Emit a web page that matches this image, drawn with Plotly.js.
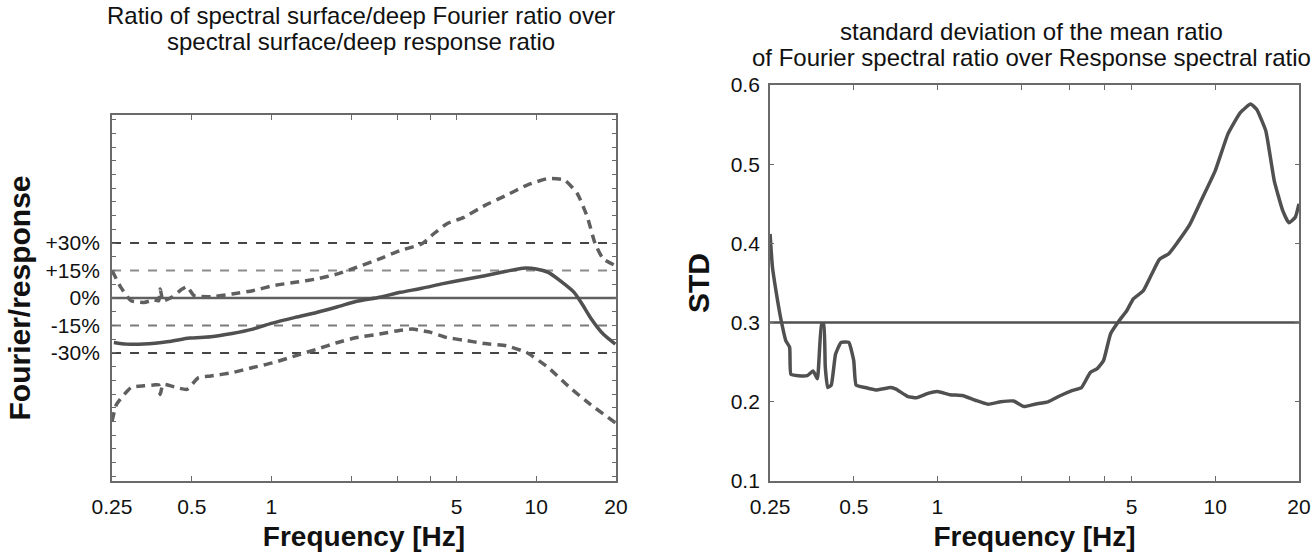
<!DOCTYPE html>
<html>
<head>
<meta charset="utf-8">
<script src="https://cdn.plot.ly/plotly-3.0.1.min.js"></script>
<style>html,body{margin:0;padding:0;background:#fff}#chart{width:1315px;height:552px}</style>
</head>
<body>
<div id="chart"></div>
<script>
// ---- Left panel: ratio Fourier/response (in %) ----
const meanFreq = [0.254,0.283,0.329,0.41,0.49,0.59,0.71,0.85,1.0,1.23,1.48,1.78,2.1,2.56,3.07,3.7,4.4,5.3,6.4,7.7,8.9,10.0,11.1,12.3,13.9,14.9,16.0,17.9,19.9];
const meanRatio = [-24.3,-25.2,-25.2,-23.8,-21.9,-21.2,-19.4,-17,-13.9,-10.6,-7.9,-4.8,-1.8,0.4,3.1,5.3,7.7,10,12.2,14.6,16.3,15.9,14,9.5,3.1,-3.3,-10.6,-19.7,-25.2];

const upperFreq = [0.25,0.27,0.295,0.33,0.36,0.375,0.38,0.39,0.42,0.46,0.48,0.51,0.59,0.71,0.85,1.02,1.23,1.48,1.78,2.1,2.56,3.07,3.7,4.1,4.6,5.3,6.4,7.7,9.2,11.1,12.8,14.3,15.6,16.7,17.9,19.9];
const upperRatio = [15,5.8,-1.5,-2.4,-1.1,-1.5,4.9,-1.5,0.4,4.9,6.2,1.3,0.7,2.2,4,6.8,8.6,10.4,13.2,16.8,21.4,26,29.6,35.1,40.6,43.9,50.6,56.1,61.6,65.3,64.4,57,44.2,29.6,21.4,17.7];

const lowerFreq = [0.25,0.26,0.295,0.33,0.36,0.375,0.38,0.39,0.44,0.48,0.53,0.59,0.71,0.85,1.02,1.23,1.48,1.78,2.1,2.56,3.07,3.4,3.7,4.0,4.6,5.3,6.4,7.7,9.2,11.1,13.4,16.0,19.9];
const lowerRatio = [-67.3,-58.1,-49,-48,-47.5,-47.5,-52.7,-47.2,-49,-49.9,-43.5,-42.6,-40.8,-38,-35.3,-31.6,-28,-24.3,-21.6,-19.7,-17.6,-17,-17.9,-18.8,-21.6,-23,-24.9,-26.1,-29.8,-38,-49,-58.1,-68.2];

const refLevels = [30, 15, 0, -15, -30];
const refSpan = [0.25, 20];

// ---- Right panel: standard deviation ----
const stdFreq = [0.25,0.255,0.266,0.274,0.285,0.294,0.297,0.316,0.34,0.357,0.37,0.383,0.39,0.395,0.403,0.415,0.43,0.45,0.48,0.5,0.51,0.55,0.6,0.68,0.71,0.78,0.84,0.93,1.0,1.11,1.23,1.37,1.52,1.69,1.88,2.05,2.24,2.5,2.74,3.05,3.3,3.55,3.76,3.96,4.2,4.5,4.8,5.07,5.5,5.9,6.3,6.8,7.3,8.1,9.0,10.0,11.1,12.3,13.4,14.1,15.2,16.3,17.5,18.4,19.4,20];
const stdValues = [0.412,0.370,0.328,0.303,0.277,0.269,0.235,0.233,0.233,0.239,0.229,0.298,0.298,0.244,0.218,0.221,0.26,0.275,0.275,0.252,0.221,0.218,0.215,0.218,0.216,0.207,0.205,0.211,0.213,0.209,0.208,0.202,0.197,0.200,0.201,0.194,0.197,0.200,0.207,0.214,0.218,0.237,0.242,0.252,0.286,0.302,0.315,0.330,0.340,0.361,0.380,0.387,0.401,0.424,0.458,0.492,0.538,0.565,0.576,0.569,0.542,0.479,0.441,0.426,0.433,0.45];
const stdThreshold = 0.3;

// ---- Tick labels ----
const freqTickVals = [0.25,0.5,1,2,3,4,5,10,20];
const freqTickText = ['0.25','0.5','1','','','','5','10','20'];
const ratioTickVals = [-97.5,-90,-82.5,-75,-67.5,-60,-52.5,-45,-37.5,-30,-22.5,-15,-7.5,0,7.5,15,22.5,30,37.5,45,52.5,60,67.5,75,82.5,90,97.5];
const ratioLabelled = {'-30':'-30%','-15':'-15%','0':'0%','15':'+15%','30':'+30%'};
const stdTickVals = [0.1,0.2,0.3,0.4,0.5,0.6];
const stdTickText = ['0.1','0.2','0.3','0.4','0.5','0.6'];

const FONT = 'Liberation Sans, Arial, Helvetica, sans-serif';
const AX = '#6a6a6a';
const CURVE = '#505050';

const refColors = ['#454545', '#8c8c8c', '#606060', '#7a7a7a', '#454545'];
const refDash = ['dash', 'dash', 'solid', 'dash', 'dash'];
const refWidth = [2, 2, 2.5, 2, 2];

const traces = [];
refLevels.forEach((lv, i) => {
  traces.push({x: refSpan, y: [lv, lv], type: 'scatter', mode: 'lines', xaxis: 'x', yaxis: 'y',
    line: {color: refColors[i], width: refWidth[i], dash: refDash[i]}, hoverinfo: 'skip'});
});
traces.push({x: upperFreq, y: upperRatio, type: 'scatter', mode: 'lines', xaxis: 'x', yaxis: 'y',
  line: {color: '#5f5f5f', width: 3.5, dash: '9px,6px', shape: 'spline', smoothing: 0.5}});
traces.push({x: lowerFreq, y: lowerRatio, type: 'scatter', mode: 'lines', xaxis: 'x', yaxis: 'y',
  line: {color: '#5f5f5f', width: 3.5, dash: '9px,6px', shape: 'spline', smoothing: 0.5}});
traces.push({x: meanFreq, y: meanRatio, type: 'scatter', mode: 'lines', xaxis: 'x', yaxis: 'y',
  line: {color: CURVE, width: 3.5, shape: 'spline', smoothing: 0.6}});

traces.push({x: refSpan, y: [stdThreshold, stdThreshold], type: 'scatter', mode: 'lines', xaxis: 'x2', yaxis: 'y2',
  line: {color: '#505050', width: 2.5}});
traces.push({x: stdFreq, y: stdValues, type: 'scatter', mode: 'lines', xaxis: 'x2', yaxis: 'y2',
  line: {color: CURVE, width: 3.5, shape: 'spline', smoothing: 0.4}});

const freqAxis = (anchor, domain) => ({
  type: 'log', range: [Math.log10(0.25), Math.log10(20)], domain: domain, anchor: anchor,
  tickvals: freqTickVals, ticktext: freqTickText, ticks: 'inside', ticklen: 5, tickcolor: AX, tickwidth: 1,
  showline: true, linecolor: AX, linewidth: 2, mirror: 'ticks', showgrid: false, zeroline: false,
  tickfont: {family: FONT, size: 21, color: '#111'}, ticklabelstandoff: 6,
  title: {text: 'Frequency [Hz]', font: {family: FONT, size: 28, color: '#111', weight: 'bold'}, standoff: 16}
});

const layout = {
  width: 1315, height: 552, showlegend: false,
  paper_bgcolor: '#ffffff', plot_bgcolor: '#ffffff',
  margin: {l: 0, r: 0, t: 0, b: 0},
  xaxis: freqAxis('y', [0.0852, 0.4684]),
  yaxis: {
    range: [-100, 100], domain: [0.1286, 0.7917], anchor: 'x',
    tickvals: ratioTickVals, ticktext: ratioTickVals.map(v => ratioLabelled[String(v)] || ''),
    ticks: 'inside', ticklen: 4, tickcolor: AX, showline: true, linecolor: AX, linewidth: 2, mirror: 'ticks',
    showgrid: false, zeroline: false, tickfont: {family: FONT, size: 21, color: '#111'}, ticklabelstandoff: 6,
    title: {text: 'Fourier/response', font: {family: FONT, size: 30, color: '#111', weight: 'bold'}, standoff: 6}
  },
  xaxis2: freqAxis('y2', [0.5856, 0.9878]),
  yaxis2: {
    range: [0.1, 0.6], domain: [0.1286, 0.846], anchor: 'x2',
    tickvals: stdTickVals, ticktext: stdTickText,
    ticks: 'inside', ticklen: 4, tickcolor: AX, showline: true, linecolor: AX, linewidth: 2, mirror: 'ticks',
    showgrid: false, zeroline: false, tickfont: {family: FONT, size: 21, color: '#111'}, ticklabelstandoff: 4,
    title: {text: 'STD', font: {family: FONT, size: 30, color: '#111', weight: 'bold'}, standoff: 12}
  },
  annotations: [
    {text: 'Ratio of spectral surface/deep Fourier ratio over', xref: 'paper', yref: 'paper', x: 361/1315, y: 1 - 15/552,
      xanchor: 'center', yanchor: 'middle', showarrow: false, font: {family: FONT, size: 24, color: '#111'}},
    {text: 'spectral surface/deep response ratio', xref: 'paper', yref: 'paper', x: 361/1315, y: 1 - 41/552,
      xanchor: 'center', yanchor: 'middle', showarrow: false, font: {family: FONT, size: 24, color: '#111'}},
    {text: 'standard deviation of the mean ratio', xref: 'paper', yref: 'paper', x: 1031/1315, y: 1 - 31/552,
      xanchor: 'center', yanchor: 'middle', showarrow: false, font: {family: FONT, size: 24, color: '#111'}},
    {text: 'of Fourier spectral ratio over Response spectral ratio', xref: 'paper', yref: 'paper', x: 1031/1315, y: 1 - 57/552,
      xanchor: 'center', yanchor: 'middle', showarrow: false, font: {family: FONT, size: 24, color: '#111'}}
  ]
};

Plotly.newPlot('chart', traces, layout, {staticPlot: true, displayModeBar: false});
</script>
</body>
</html>
